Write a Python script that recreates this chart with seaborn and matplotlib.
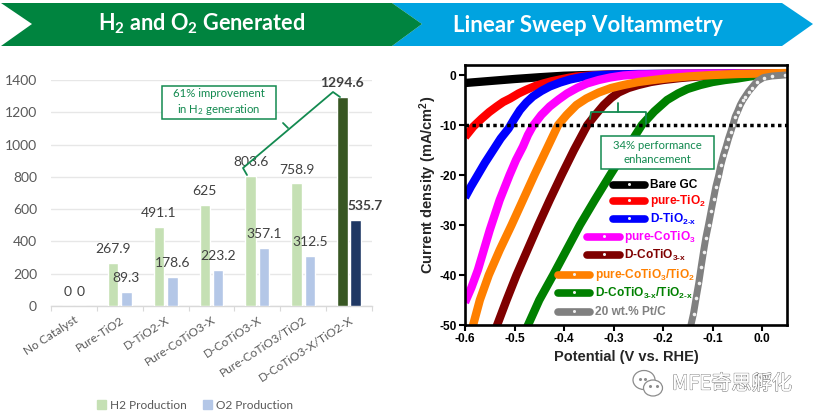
import matplotlib
matplotlib.use("Agg")
import matplotlib.pyplot as plt
import matplotlib.patheffects as pe
from matplotlib.patches import Polygon, Rectangle, Ellipse
import pandas as pd
import seaborn as sns

# ---------- data ----------
categories = ["No Catalyst", "Pure-TiO2", "D-TiO2-X", "Pure-CoTiO3-X", "D-CoTiO3-X", "Pure-CoTiO3/TiO2", "D-CoTiO3-X/TiO2-X"]
h2_values = [0, 267.9, 491.1, 625, 803.6, 758.9, 1294.6]
o2_values = [0, 89.3, 178.6, 223.2, 357.1, 312.5, 535.7]
series_names = ["H2 Production", "O2 Production"]
bar_yticks = [0, 200, 400, 600, 800, 1000, 1200, 1400]

bare_v = [-0.6, -0.55, -0.5, -0.45, -0.4, -0.35, -0.3, -0.2, 0.05]
bare_i = [-1.6, -1.2, -0.8, -0.45, -0.15, 0.0, 0.1, 0.2, 0.3]
tio2_v = [-0.6, -0.583, -0.566, -0.551, -0.536, -0.523, -0.509, -0.492, -0.475, -0.458, -0.442, -0.425, -0.408, -0.39, -0.375, -0.34, -0.3, -0.2, 0.05]
tio2_i = [-12.4, -10.3, -8.7, -7.4, -6.3, -5.4, -4.7, -3.7, -2.9, -2.2, -1.7, -1.25, -0.9, -0.55, -0.3, -0.05, 0.1, 0.2, 0.3]
dtio2_v = [-0.6, -0.588, -0.576, -0.56, -0.543, -0.528, -0.512, -0.5, -0.489, -0.476, -0.463, -0.446, -0.429, -0.408, -0.388, -0.364, -0.34, -0.3, -0.25, 0.05]
dtio2_i = [-24.5, -22.3, -20.3, -17.6, -15.0, -12.7, -10.7, -8.7, -7.0, -5.5, -4.3, -3.2, -2.3, -1.5, -0.9, -0.4, -0.1, 0.1, 0.2, 0.3]
coti_v = [-0.6, -0.587, -0.574, -0.562, -0.55, -0.54, -0.53, -0.52, -0.51, -0.497, -0.483, -0.473, -0.463, -0.446, -0.429, -0.411, -0.394, -0.374, -0.354, -0.33, -0.307, -0.28, -0.25, -0.15, 0.05]
coti_i = [-45.5, -42.5, -39, -35, -31, -28, -25, -22.5, -20, -17, -14.3, -12, -10.2, -8, -6.3, -4.9, -3.7, -2.6, -1.7, -1, -0.5, -0.1, 0.1, 0.25, 0.3]
dcoti_v = [-0.537, -0.516, -0.496, -0.474, -0.452, -0.429, -0.405, -0.38, -0.353, -0.337, -0.32, -0.305, -0.29, -0.27, -0.25, -0.225, -0.2, -0.165, -0.13, -0.09, -0.05, 0.05]
dcoti_i = [-50.5, -45, -40, -35, -30, -25, -20, -15, -10, -8, -6, -4.6, -3.5, -2.6, -2, -1.4, -1, -0.6, -0.3, -0.05, 0.1, 0.3]
green_v = [-0.475, -0.45, -0.422, -0.395, -0.368, -0.338, -0.307, -0.275, -0.243, -0.218, -0.192, -0.17, -0.151, -0.125, -0.1, -0.075, -0.05, -0.025, 0.0, 0.05]
green_i = [-50.5, -45, -40, -35, -30, -25, -20, -15, -10, -7.3, -5, -3.7, -2.8, -2, -1.4, -1, -0.7, -0.3, 0, 0.3]
orange_v = [-0.585, -0.57, -0.552, -0.53, -0.506, -0.483, -0.46, -0.436, -0.412, -0.395, -0.375, -0.355, -0.33, -0.305, -0.28, -0.25, -0.22, -0.185, -0.15, -0.1, -0.05, 0.05]
orange_i = [-50.5, -45, -40, -35, -30, -25, -20, -15, -10, -8, -6, -4.7, -3.5, -2.6, -2, -1.4, -1, -0.6, -0.3, 0, 0.2, 0.4]
gray_v = [-0.145, -0.1387, -0.1333, -0.128, -0.1232, -0.1185, -0.1138, -0.1084, -0.103, -0.0983, -0.0936, -0.0882,
          -0.0835, -0.0781, -0.0727, -0.0681, -0.0634, -0.0593, -0.0545, -0.0498, -0.0444, -0.039, -0.0343,
          -0.0276, -0.0209, -0.0108, 0.0027, 0.0195, 0.0465]
gray_i = [-50.5, -47.7, -44.5, -41.5, -38.3, -35.3, -32.5, -29.9, -27.1, -24.7, -22.3, -20.2,
          -18, -16, -14.3, -12.7, -11.3, -10, -8.3, -7.3, -6, -5, -4.3,
          -3.3, -2.5, -1.3, -0.5, -0.2, 0]
target_level = [-10, -10]
target_v = [-0.6, 0.05]
lsv_xticks = [-0.6, -0.5, -0.4, -0.3, -0.2, -0.1, 0.0]
lsv_yticks = [0, -10, -20, -30, -40, -50]

W, H = 815, 420
GREEN = "#00843f"
BLUE = "#00a3e0"
TXT = "#595959"
LAB = "#404040"
ARIAL = "Liberation Sans"

sns.set_theme(style="white")
plt.rcParams.update({
    "font.family": ["Lato", "DejaVu Sans"],
    "axes.unicode_minus": False,
    "mathtext.fontset": "custom",
    "mathtext.rm": "Lato",
    "mathtext.bf": "Lato:bold",
    "mathtext.sf": "Liberation Sans:bold",
    "mathtext.default": "regular",
})

fig = plt.figure(figsize=(W / 100, H / 100), dpi=100, facecolor="white")


def box(l, t, r, b):
    return [l / W, 1 - b / H, (r - l) / W, (b - t) / H]


# ---------- bar chart ----------
ax = fig.add_axes(box(51, 80, 372, 306))
df = pd.DataFrame({
    "cat": categories * 2,
    "value": h2_values + o2_values,
    "series": [series_names[0]] * len(categories) + [series_names[1]] * len(categories),
})
sns.barplot(data=df, x="cat", y="value", hue="series", ax=ax, width=0.58, gap=0.2, saturation=1,
            palette=["#c5e0b4", "#b4c7e7"], legend=False, zorder=3)
ax.set_xlim(-0.5, 6.5)
ax.set_ylim(0, 1400)
ax.set_xlabel("")
ax.set_ylabel("")
ax.set_yticks(bar_yticks)
ax.tick_params(axis="y", length=0, labelsize=10, labelcolor=TXT, pad=10)
ax.set_xticks(range(len(categories)))
ax.set_xticklabels(categories, rotation=33, ha="right", rotation_mode="anchor", fontsize=8.6, color=TXT)
ax.set_xticks([i - 0.5 for i in range(len(categories) + 1)], minor=True)
ax.tick_params(axis="x", which="major", length=0, pad=6)
ax.tick_params(axis="x", which="minor", length=3.5, width=0.8, color="#d9d9d9", bottom=True)
ax.grid(axis="y", color="#e7e7e7", linewidth=1.0, zorder=0)
ax.grid(axis="x", visible=False)
for s in ["top", "left", "right"]:
    ax.spines[s].set_visible(False)
ax.spines["bottom"].set_color("#d9d9d9")
ax.spines["bottom"].set_linewidth(1.0)
cont_h2, cont_o2 = ax.containers[0], ax.containers[1]
handles = [Rectangle((0, 0), 1, 1, color="#c5e0b4"), Rectangle((0, 0), 1, 1, color="#b4c7e7")]
cont_h2[-1].set_facecolor("#385723")
cont_o2[-1].set_facecolor("#1f3864")
for cont, vals in ((cont_h2, h2_values), (cont_o2, o2_values)):
    for i, (bar, v) in enumerate(zip(cont, vals)):
        last = i == len(vals) - 1
        dx = 9 if (last and cont is cont_o2) else 0
        ax.annotate(f"{v:g}", (bar.get_x() + bar.get_width() / 2, v), xytext=(dx * 0.72, 10),
                    textcoords="offset points", ha="center", va="center",
                    fontsize=10, color=LAB, fontweight="bold" if last else "normal",
                    annotation_clip=False, zorder=6)
leg = ax.legend(handles, series_names, ncol=2, frameon=False, loc="center", fontsize=8.6,
                bbox_to_anchor=(195 / W, 1 - 405.5 / H), bbox_transform=fig.transFigure,
                handlelength=0.75, handleheight=0.75, handletextpad=0.35, columnspacing=1.3,
                labelcolor=TXT)

# ---------- LSV chart ----------
bx = fig.add_axes(box(465, 65, 787, 325))
curves = [
    (bare_v, bare_i, "#000000"), (tio2_v, tio2_i, "#ff0000"), (dtio2_v, dtio2_i, "#0000ff"),
    (coti_v, coti_i, "#ff00ff"), (dcoti_v, dcoti_i, "#7f0000"), (green_v, green_i, "#008000"),
    (orange_v, orange_i, "#ff8000"),
]
for v, i, c in curves:
    sns.lineplot(x=v, y=i, ax=bx, color=c, linewidth=6, sort=False, errorbar=None,
                 solid_capstyle="butt", solid_joinstyle="round")
sns.lineplot(x=gray_v, y=gray_i, ax=bx, color="#808080", linewidth=5, sort=False, errorbar=None,
             marker="o", markersize=2.6, markerfacecolor="#f0f0f0", markeredgewidth=0, solid_joinstyle="round")
sns.lineplot(x=target_v, y=target_level, ax=bx, color="black", linewidth=2.5, linestyle=(0, (1, 1)), errorbar=None)
bx.set_xlim(-0.6, 0.05)
bx.set_ylim(-50, 2)
bx.set_xticks(lsv_xticks)
bx.set_xticklabels([f"{t:.1f}" for t in lsv_xticks], fontfamily=ARIAL, fontweight="bold", fontsize=8.6)
bx.set_yticks(lsv_yticks)
bx.set_yticklabels([str(t) for t in lsv_yticks], fontfamily=ARIAL, fontweight="bold", fontsize=8.6)
bx.tick_params(axis="both", length=4, width=1.5, color="black", labelcolor="black", bottom=True, left=True, pad=2)
for s in bx.spines.values():
    s.set_linewidth(1.9)
    s.set_color("black")
bx.set_xlabel("Potential (V vs. RHE)", fontfamily=ARIAL, fontweight="bold", fontsize=10.5, labelpad=3)
bx.set_ylabel(r"Current density (mA/cm$^{\mathsf{2}}$)", fontfamily=ARIAL, fontweight="bold", fontsize=10.5,
              labelpad=0, y=0.54)

# ---------- overlay: banners, callouts, legend, watermark ----------
ov = fig.add_axes([0, 0, 1, 1], zorder=10)
ov.set_xlim(0, W)
ov.set_ylim(H, 0)
ov.axis("off")
ov.patch.set_alpha(0)
ov.add_patch(Polygon([(392, 3), (782, 3), (813, 24), (782, 46), (392, 46), (422, 24)], closed=True, fc=BLUE, ec="none"))
ov.add_patch(Polygon([(1, 3), (392, 3), (422, 24), (392, 46), (1, 46), (32, 24)], closed=True, fc=GREEN, ec="none"))
ov.text(202, 24, r"H$_{\mathbf{2}}$ and O$_{\mathbf{2}}$ Generated", color="white", fontweight="bold", fontsize=15.6,
        ha="center", va="center")
ov.text(588, 25, "Linear Sweep Voltammetry", color="white", fontweight="bold", fontsize=16,
        ha="center", va="center")

CALL = "#138a50"
ov.plot([247, 243, 333, 340], [175, 168, 92, 97], color=CALL, lw=1.3)
ov.plot([288, 283], [128, 123], color=CALL, lw=1.3)
ov.add_patch(Rectangle((162, 86), 114, 33, fc="white", ec=CALL, lw=1.1))
ov.text(219, 102.5, "61% improvement\nin H$_2$ generation", color=CALL, fontsize=8.2, ha="center", va="center",
        linespacing=1.35)
ov.plot([590, 591, 646, 646], [119, 112, 112, 124], color=CALL, lw=1.3)
ov.plot([618, 618], [103, 112], color=CALL, lw=1.3)
ov.add_patch(Rectangle((601, 136), 113, 33, fc="white", ec=CALL, lw=1.1))
ov.text(657.5, 152.5, "34% performance\nenhancement", color=CALL, fontsize=8.2, ha="center", va="center",
        linespacing=1.35)

legend_rows = [
    ("Bare GC", "#000000", 613, 645, 650, 185),
    ("pure-TiO$_{\\mathsf{2}}$", "#ff0000", 613, 645, 650, 201),
    ("D-TiO$_{\\mathsf{2\u2010x}}$", "#0000ff", 613, 645, 650, 219),
    ("pure-CoTiO$_{\\mathsf{3}}$", "#ff00ff", 587, 620, 624, 237),
    ("D-CoTiO$_{\\mathsf{3\u2010x}}$", "#7f0000", 587, 620, 624, 255),
    ("pure-CoTiO$_{\\mathsf{3}}$/TiO$_{\\mathsf{2}}$", "#ff8000", 558, 590, 595, 275),
    ("D-CoTiO$_{\\mathsf{3\u2010x}}$/TiO$_{\\mathsf{2\u2010x}}$", "#008000", 558, 590, 595, 293),
    ("20 wt.% Pt/C", "#808080", 558, 590, 595, 312),
]
for label, col, x0, x1, xt, y in legend_rows:
    ov.plot([x0, x1], [y, y], color=col, lw=5.5, solid_capstyle="round")
    ov.plot([(x0 + x1) / 2], [y - 1], "o", ms=2.2, mfc="#f0f0f0", mec="none")
    ov.text(xt, y, label, color=col, fontfamily=ARIAL, fontweight="bold", fontsize=8.6, ha="left", va="center")

wm = "#8c8c8c"
ov.add_patch(Ellipse((644, 380), 22, 19, fc="none", ec=wm, lw=0.9))
ov.add_patch(Ellipse((653, 388), 19, 16, fc="white", ec=wm, lw=0.9))
ov.plot([640, 645, 650, 657], [379, 379, 386, 386], "o", ms=1.2, color=wm)
ov.text(672, 384, "MFE奇思孵化", family=["Noto Sans CJK SC", "DejaVu Sans"], fontsize=14.5, ha="left", va="center",
        color="white", path_effects=[pe.withStroke(linewidth=0.9, foreground="#808080"), pe.Normal()])

fig.savefig("out.png", dpi=100, facecolor="white")
